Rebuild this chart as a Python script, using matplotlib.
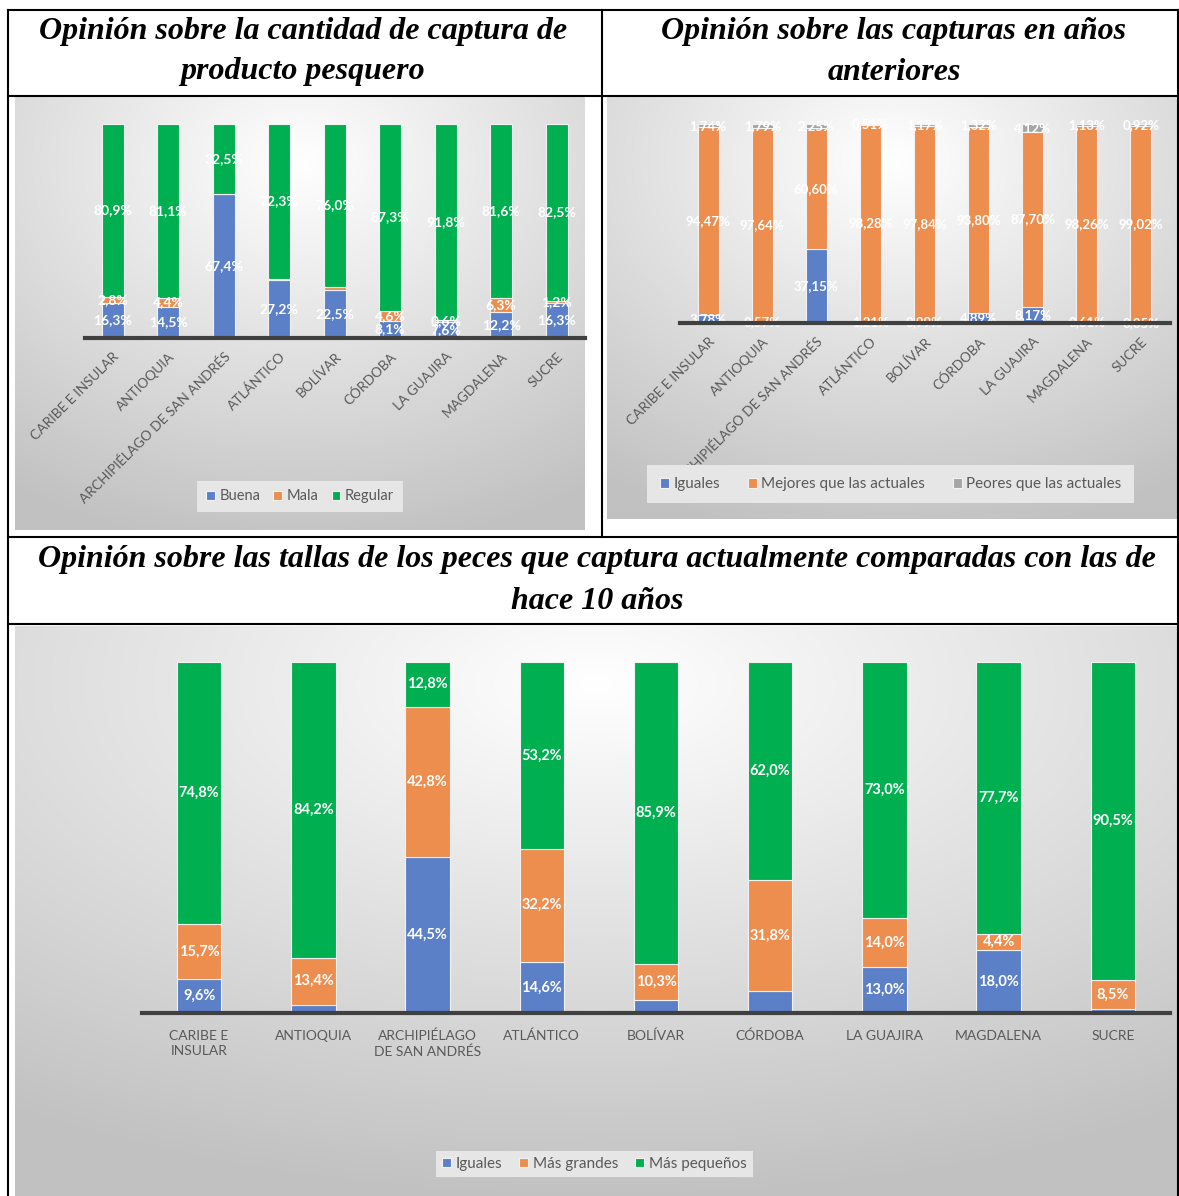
#!/usr/bin/env python3
# -*- coding=utf-8 -*-
import numpy as np
from matplotlib import pyplot as plt
from matplotlib.lines import Line2D

plt.rcParams['font.family'] = ['Lato', 'DejaVu Sans']

W, H = 1179, 1196

# ---- datos: cantidad de captura ----
dep_top = ['CARIBE E INSULAR', 'ANTIOQUIA', 'ARCHIPIÉLAGO DE SAN ANDRÉS', 'ATLÁNTICO',
           'BOLÍVAR', 'CÓRDOBA', 'LA GUAJIRA', 'MAGDALENA', 'SUCRE']
buena = [16.3, 14.5, 67.4, 27.2, 22.5, 8.1, 7.6, 12.2, 16.3]
mala = [2.8, 4.4, 0.1, 0.5, 1.5, 4.6, 0.6, 6.3, 1.2]
regular = [80.9, 81.1, 32.5, 72.3, 76.0, 87.3, 91.8, 81.6, 82.5]
mala_show = [True, True, False, False, False, True, True, True, True]

# ---- datos: capturas en años anteriores ----
iguales_a = [3.78, 0.57, 37.15, 1.21, 0.99, 4.89, 8.17, 0.61, 0.05]
mejores = [94.47, 97.64, 60.60, 98.28, 97.84, 93.80, 87.70, 98.26, 99.02]
peores = [1.74, 1.79, 2.25, 0.51, 1.17, 1.32, 4.12, 1.13, 0.92]

# ---- datos: tallas ----
dep_bot = ['CARIBE E\nINSULAR', 'ANTIOQUIA', 'ARCHIPIÉLAGO\nDE SAN ANDRÉS', 'ATLÁNTICO',
           'BOLÍVAR', 'CÓRDOBA', 'LA GUAJIRA', 'MAGDALENA', 'SUCRE']
iguales_t = [9.6, 2.4, 44.5, 14.6, 3.8, 6.2, 13.0, 18.0, 1.0]
grandes = [15.7, 13.4, 42.8, 32.2, 10.3, 31.8, 14.0, 4.4, 8.5]
pequenos = [74.8, 84.2, 12.8, 53.2, 85.9, 62.0, 73.0, 77.7, 90.5]
iguales_show = [True, False, True, True, False, False, True, True, False]

AZUL = '#5B80C8'
NARANJA = '#ED8D4E'
VERDE = '#00B050'
GRIS = '#A5A5A5'
TXT = '#595959'


def box(x0, y0, x1, y1):
    return [x0 / W, 1 - y1 / H, (x1 - x0) / W, (y1 - y0) / H]


def fondo(fig, x0, y0, x1, y1, cx=0.5, cy=0.15):
    # fondo degradado tipo Excel
    ax = fig.add_axes(box(x0, y0, x1, y1))
    yy, xx = np.mgrid[0:1:200j, 0:1:300j]
    r = np.sqrt((xx - cx) ** 2 + (yy - cy) ** 2)
    r = np.clip(r / 0.9, 0, 1)
    g = 1.0 - 0.24 * r
    ax.imshow(np.dstack([g, g, g]), aspect='auto', extent=(0, 1, 1, 0))
    ax.axis('off')
    return ax


def barras(ax, series, colores, etiquetas, ancho, fmt, fs, mostrar):
    x = np.arange(len(series[0]))
    base = np.zeros(len(x))
    for vals, col, lab, show in zip(series, colores, etiquetas, mostrar):
        ax.bar(x, vals, ancho, bottom=base, color=col, edgecolor='#f2f2f2',
               linewidth=0.8, label=lab, zorder=3)
        for i, v in enumerate(vals):
            if show[i]:
                ax.text(x[i], base[i] + v / 2, fmt(v), ha='center', va='center',
                        color='white', fontsize=fs, fontweight='bold', zorder=4)
        base = base + np.array(vals)
    ax.set_ylim(0, 100)
    ax.patch.set_alpha(0)
    for s in ['top', 'left', 'right']:
        ax.spines[s].set_visible(False)
    ax.spines['bottom'].set_linewidth(3)
    ax.spines['bottom'].set_color('#404040')
    ax.spines['bottom'].set_zorder(5)
    ax.set_yticks([])
    ax.tick_params(axis='x', length=0, colors=TXT)


def f1(v):
    return ('%.1f%%' % v).replace('.', ',')


def f2(v):
    return ('%.2f%%' % v).replace('.', ',')


fig = plt.figure(figsize=(W / 100, H / 100), dpi=100)

# ---------- gráfico 1 ----------
fondo(fig, 15, 97, 585, 530)
ax1 = fig.add_axes(box(85, 124, 585, 338))
barras(ax1, [buena, mala, regular], [AZUL, NARANJA, VERDE], ['Buena', 'Mala', 'Regular'],
       0.4, f1, 10, [[True] * 9, mala_show, [True] * 9])
ax1.set_xlim(-0.5, 8.51)
ax1.set_xticks(range(9))
ax1.set_xticklabels(dep_top, rotation=45, ha='right', va='top', rotation_mode='anchor',
                    fontsize=9.8)
ax1.tick_params(axis='x', pad=9)
ax1.legend(loc='center', bbox_to_anchor=(0.43, -0.74), ncol=3, frameon=True,
           facecolor='#E6E6E6', edgecolor='none', fontsize=10.5, handlelength=0.6,
           handleheight=0.6, columnspacing=0.9, handletextpad=0.3, labelcolor=TXT,
           fancybox=False, framealpha=1, borderpad=0.6)

# ---------- gráfico 2 ----------
fondo(fig, 607, 97, 1177, 519)
ax2 = fig.add_axes(box(680, 124, 1170, 323))
barras(ax2, [iguales_a, mejores, peores], [AZUL, NARANJA, GRIS],
       ['Iguales', 'Mejores que las actuales', 'Peores que las actuales'],
       0.39, f2, 9.5, [[True] * 9] * 3)
ax2.set_xlim(-0.52, 8.54)
ax2.set_xticks(range(9))
ax2.set_xticklabels(dep_top, rotation=45, ha='right', va='top', rotation_mode='anchor',
                    fontsize=9.8)
ax2.tick_params(axis='x', pad=9)
ax2.legend(loc='center', bbox_to_anchor=(0.43, -0.81), ncol=3, frameon=True,
           facecolor='#E6E6E6', edgecolor='none', fontsize=11, handlelength=0.6,
           handleheight=0.6, columnspacing=1.8, handletextpad=0.3, labelcolor=TXT,
           fancybox=False, framealpha=1, borderpad=0.8)

# ---------- gráfico 3 ----------
fondo(fig, 15, 626, 1177, 1196, cx=0.5, cy=0.1)
ax3 = fig.add_axes(box(142, 662, 1170, 1013))
barras(ax3, [iguales_t, grandes, pequenos], [AZUL, NARANJA, VERDE],
       ['Iguales', 'Más grandes', 'Más pequeños'], 0.39, f1, 10.5,
       [iguales_show, [True] * 9, [True] * 9])
ax3.set_xlim(-0.5, 8.5)
ax3.set_xticks(range(9))
ax3.set_xticklabels(dep_bot, fontsize=10, linespacing=1.3)
ax3.tick_params(axis='x', pad=12)
ax3.legend(loc='center', bbox_to_anchor=(0.44, -0.43), ncol=3, frameon=True,
           facecolor='#E6E6E6', edgecolor='none', fontsize=11, handlelength=0.6,
           handleheight=0.6, columnspacing=1.1, handletextpad=0.3, labelcolor=TXT,
           fancybox=False, framealpha=1)

# ---------- títulos ----------
tfont = dict(family='Liberation Serif', fontweight='bold', fontstyle='italic',
             fontsize=23, ha='center', va='center', color='black')
fig.text(303 / W, 1 - 31 / H, 'Opinión sobre la cantidad de captura de', **tfont)
fig.text(303 / W, 1 - 72 / H, 'producto pesquero', **tfont)
fig.text(894 / W, 1 - 31 / H, 'Opinión sobre las capturas en años', **tfont)
fig.text(894 / W, 1 - 72 / H, 'anteriores', **tfont)
fig.text(597 / W, 1 - 559 / H,
         'Opinión sobre las tallas de los peces que captura actualmente comparadas con las de',
         **tfont)
fig.text(597 / W, 1 - 601 / H, 'hace 10 años', **tfont)

# ---------- líneas de la tabla ----------
def linea(x0, y0, x1, y1):
    fig.add_artist(Line2D([x0 / W, x1 / W], [1 - y0 / H, 1 - y1 / H], color='black',
                          linewidth=1.5))


linea(8, 10, 1179, 10)
linea(8, 96, 1179, 96)
linea(8, 537, 1179, 537)
linea(8, 624, 1179, 624)
linea(8, 10, 8, 1196)
linea(1178, 10, 1178, 1196)
linea(602, 10, 602, 537)

plt.savefig('out.png', dpi=100)
